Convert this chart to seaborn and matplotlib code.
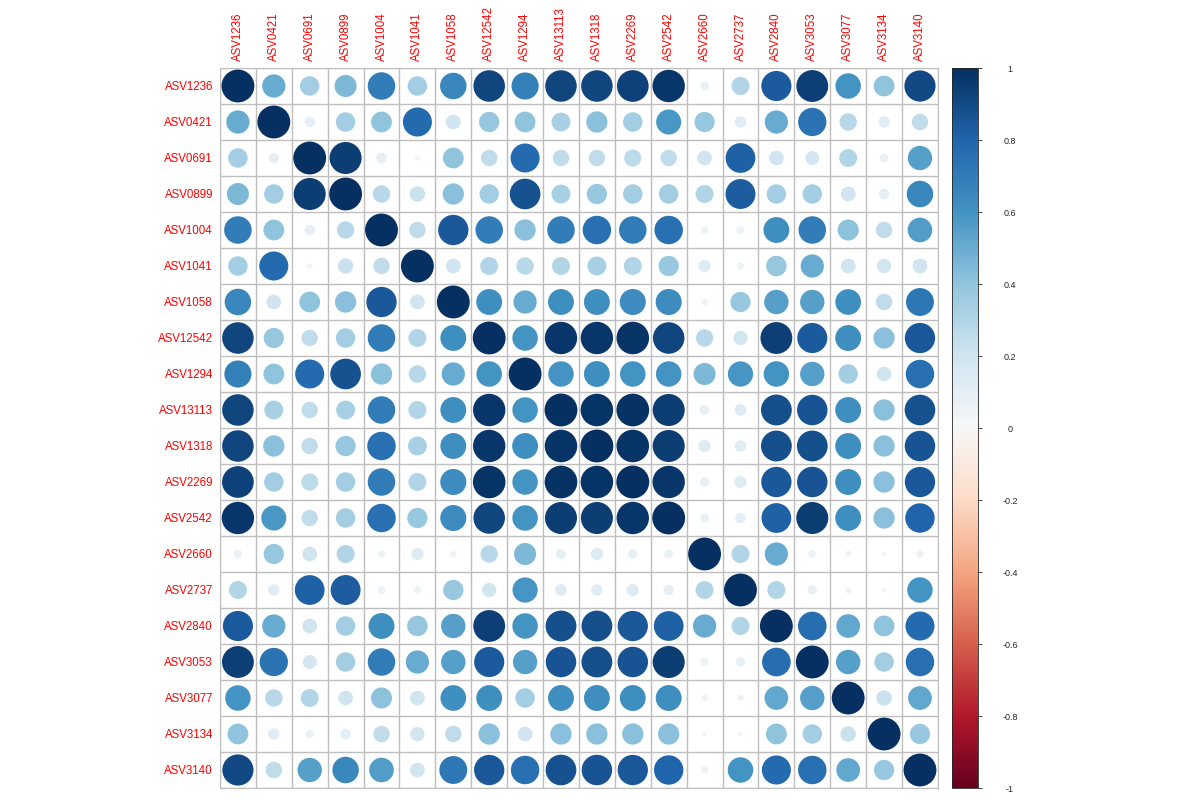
import numpy as np
import pandas as pd
import seaborn as sns
import matplotlib.pyplot as plt
import matplotlib as mpl

# ASV names (row/column order)
asvs = ["ASV1236", "ASV0421", "ASV0691", "ASV0899", "ASV1004", "ASV1041",
        "ASV1058", "ASV12542", "ASV1294", "ASV13113", "ASV1318", "ASV2269",
        "ASV2542", "ASV2660", "ASV2737", "ASV2840", "ASV3053", "ASV3077",
        "ASV3134", "ASV3140"]

# upper triangle of the correlation matrix, each row starts right after the diagonal
upper = [
    [0.50, 0.35, 0.45, 0.70, 0.35, 0.65, 0.92, 0.68, 0.92, 0.92, 0.93, 0.97, 0.07, 0.30, 0.84, 0.94, 0.60, 0.40, 0.90],
    [0.10, 0.35, 0.40, 0.78, 0.20, 0.38, 0.40, 0.33, 0.42, 0.35, 0.58, 0.38, 0.12, 0.50, 0.74, 0.28, 0.12, 0.25],
    [0.95, 0.10, 0.03, 0.40, 0.25, 0.78, 0.25, 0.25, 0.27, 0.25, 0.20, 0.82, 0.20, 0.18, 0.30, 0.07, 0.55],
    [0.28, 0.22, 0.42, 0.35, 0.87, 0.33, 0.38, 0.35, 0.35, 0.30, 0.83, 0.35, 0.35, 0.20, 0.10, 0.65],
    [0.25, 0.85, 0.70, 0.42, 0.70, 0.75, 0.70, 0.75, 0.05, 0.06, 0.62, 0.70, 0.41, 0.25, 0.56],
    [0.20, 0.30, 0.28, 0.30, 0.33, 0.30, 0.38, 0.14, 0.05, 0.39, 0.50, 0.20, 0.19, 0.20],
    [0.62, 0.50, 0.62, 0.62, 0.63, 0.63, 0.04, 0.38, 0.55, 0.55, 0.61, 0.25, 0.72],
    [0.60, 0.97, 0.97, 0.98, 0.92, 0.28, 0.19, 0.94, 0.84, 0.62, 0.42, 0.85],
    [0.60, 0.62, 0.60, 0.60, 0.45, 0.59, 0.60, 0.55, 0.35, 0.20, 0.75],
    [0.98, 0.99, 0.95, 0.09, 0.13, 0.88, 0.86, 0.62, 0.42, 0.87],
    [0.98, 0.95, 0.14, 0.12, 0.88, 0.88, 0.62, 0.42, 0.86],
    [0.97, 0.08, 0.14, 0.85, 0.86, 0.62, 0.42, 0.85],
    [0.07, 0.10, 0.82, 0.95, 0.62, 0.42, 0.80],
    [0.30, 0.50, 0.06, 0.04, 0.02, 0.05],
    [0.30, 0.08, 0.04, 0.02, 0.60],
    [0.76, 0.52, 0.40, 0.78],
    [0.55, 0.35, 0.75],
    [0.22, 0.52],
    [0.38],
]

n = len(asvs)
corr = np.eye(n)
for i, row in enumerate(upper):
    for k, v in enumerate(row):
        j = i + 1 + k
        corr[i, j] = v
        corr[j, i] = v

df = pd.DataFrame(corr, index=asvs, columns=asvs)
long = df.reset_index().melt(id_vars="index", var_name="col", value_name="r")
long = long.rename(columns={"index": "row"})
long["x"] = long["col"].map({a: i for i, a in enumerate(asvs)})
long["y"] = long["row"].map({a: i for i, a in enumerate(asvs)})
long["absr"] = long["r"].abs()

sns.set_style("white")
plt.rcParams["font.family"] = ["Liberation Sans", "DejaVu Sans"]

fig = plt.figure(figsize=(12, 8), dpi=100)
ax = fig.add_axes([0.1833, 0.015, 0.5983, 0.90])
cax = fig.add_axes([0.7933, 0.015, 0.0217, 0.90])

sns.scatterplot(data=long, x="x", y="y", hue="r", size="absr",
                palette="RdBu", hue_norm=(-1, 1),
                sizes=(0, 560), size_norm=(0, 1),
                edgecolor="none", legend=False, ax=ax, zorder=3)

ax.set_xlim(-0.5, n - 0.5)
ax.set_ylim(n - 0.5, -0.5)
ax.set_xticks(range(n))
ax.set_yticks(range(n))
ax.set_xticklabels(asvs, rotation=90, color="red", fontsize=8.3)
ax.set_yticklabels(asvs, color="red", fontsize=8.3)
ax.xaxis.tick_top()
ax.tick_params(length=0, pad=5)
ax.set_xlabel("")
ax.set_ylabel("")
ax.set_xticks(np.arange(-0.5, n, 1), minor=True)
ax.set_yticks(np.arange(-0.5, n, 1), minor=True)
ax.tick_params(which="minor", length=0)
ax.grid(which="minor", color="#BEBEBE", linewidth=1)
ax.grid(which="major", visible=False)
for s in ax.spines.values():
    s.set_color("#BEBEBE")

sm = mpl.cm.ScalarMappable(norm=mpl.colors.Normalize(-1, 1), cmap="RdBu")
cb = fig.colorbar(sm, cax=cax)
cb.set_ticks(np.arange(-1, 1.01, 0.2))
cb.set_ticklabels(["-1", "-0.8", "-0.6", "-0.4", "-0.2", "0", "0.2", "0.4", "0.6", "0.8", "1"])
cb.ax.tick_params(labelsize=6.5, length=3, width=0.6, pad=20)
for t in cb.ax.get_yticklabels():
    t.set_horizontalalignment("center")
cb.outline.set_linewidth(0.6)

fig.savefig("out.png", dpi=100)
